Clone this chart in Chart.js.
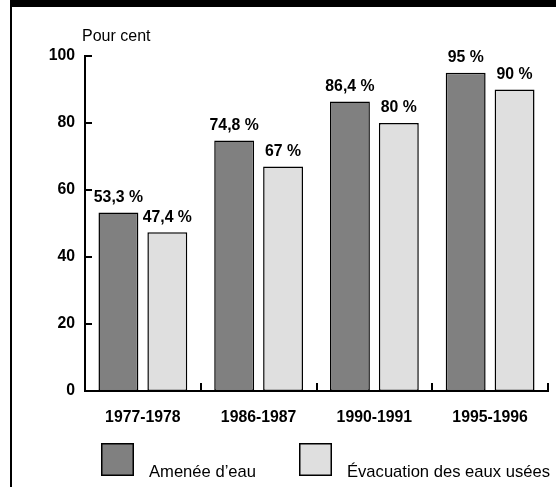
<!DOCTYPE html>
<html>
<head>
<meta charset="utf-8">
<script src="https://cdn.jsdelivr.net/npm/chart.js@4"></script>
<style>
  body { margin: 0; background: #fff; }
  #wrap { position: relative; width: 556px; height: 487px; }
  #frame {
    position: absolute; left: 10px; top: 0; width: 546px; height: 487px;
    border-left: 2px solid #000; border-top: 7px solid #000;
    box-sizing: border-box; pointer-events: none;
  }
</style>
</head>
<body>
<div id="wrap">
  <canvas id="myChart" width="556" height="487"></canvas>
  <div id="frame"></div>
</div>
<script>
let periods = ['1977-1978', '1986-1987', '1990-1991', '1995-1996'];
let water_supply = [53.3, 74.8, 86.4, 95];
let sewage = [47.4, 67, 80, 90];
let series_names = ['Amenée d’eau', 'Évacuation des eaux usées'];
let y_ticks = [0, 20, 40, 60, 80, 100];
let unit_label = 'Pour cent';

let fill_colors = ['#808080', '#dfdfdf'];
let num_family = '"Liberation Sans", Arial, sans-serif';
let num_font = { family: num_family, size: 15.8, weight: 'bold' };

function fmt(v){
    return v.toString().replace('.', ',') + ' %';
}

// labels above bars
let valueLabels = {
    id: 'valueLabels',
    afterDatasetsDraw(chart){
        let ctx = chart.ctx;
        ctx.save();
        ctx.font = 'bold 15.8px ' + num_family;
        ctx.fillStyle = '#000';
        ctx.textAlign = 'center';
        ctx.textBaseline = 'middle';
        chart.data.datasets.forEach(function(ds, i){
            let meta = chart.getDatasetMeta(i);
            meta.data.forEach(function(bar, j){
                ctx.fillText(fmt(ds.data[j]), bar.x, bar.y - 15);
            });
        });
        ctx.restore();
    }
};

// inward tick marks on both axes + unit caption
let axisTicks = {
    id: 'axisTicks',
    afterDraw(chart){
        let ctx = chart.ctx;
        let area = chart.chartArea;
        let xs = chart.scales.x, ys = chart.scales.y;
        ctx.save();
        ctx.strokeStyle = '#000';
        ctx.lineWidth = 2;
        ctx.beginPath();
        for (let i = 1; i < y_ticks.length; i++) {
            let py = Math.round(ys.getPixelForValue(y_ticks[i]));
            ctx.moveTo(area.left, py);
            ctx.lineTo(area.left + 7, py);
        }
        let half = (xs.getPixelForValue(1) - xs.getPixelForValue(0)) / 2;
        for (let i = 0; i < periods.length; i++) {
            let px = Math.round(xs.getPixelForValue(i) + half);
            ctx.moveTo(px, area.bottom);
            ctx.lineTo(px, area.bottom - 8);
        }
        ctx.stroke();

        ctx.font = '16px "Liberation Sans", sans-serif';
        ctx.fillStyle = '#000';
        ctx.textAlign = 'left';
        ctx.textBaseline = 'alphabetic';
        ctx.fillText(unit_label, area.left - 3, 41);
        ctx.restore();
    }
};

// legend under the axis, text sitting on the box bottom
let boxLegend = {
    id: 'boxLegend',
    afterDraw(chart){
        let ctx = chart.ctx;
        let spots = [101, 299];
        ctx.save();
        ctx.font = '16.6px "Liberation Sans", sans-serif';
        ctx.textBaseline = 'alphabetic';
        ctx.textAlign = 'left';
        chart.data.datasets.forEach(function(ds, i){
            ctx.fillStyle = ds.backgroundColor;
            ctx.fillRect(spots[i], 443, 33, 33);
            ctx.strokeStyle = '#000';
            ctx.lineWidth = 1.5;
            ctx.strokeRect(spots[i] + 0.75, 443.75, 31.5, 31.5);
            ctx.fillStyle = '#000';
            ctx.fillText(ds.label, spots[i] + 48, 477);
        });
        ctx.restore();
    }
};

Chart.defaults.color = '#000';

let config = {
    type: 'bar',
    data: {
        labels: periods,
        datasets: [
            {
                label: series_names[0],
                data: water_supply,
                backgroundColor: fill_colors[0],
                borderColor: '#000',
                borderWidth: 1.5,
                borderSkipped: false
            },
            {
                label: series_names[1],
                data: sewage,
                backgroundColor: fill_colors[1],
                borderColor: '#000',
                borderWidth: 1.5,
                borderSkipped: false
            }
        ]
    },
    options: {
        responsive: false,
        animation: false,
        devicePixelRatio: 1,
        categoryPercentage: 0.845,
        barPercentage: 0.816,
        layout: {
            padding: { top: 56, right: 8, left: 0, bottom: 0 }
        },
        plugins: {
            legend: { display: false },
            tooltip: { enabled: false }
        },
        scales: {
            x: {
                grid: { display: false, drawTicks: false },
                border: { display: true, color: '#000', width: 2 },
                ticks: {
                    padding: 17,
                    font: num_font
                },
                afterFit(scale){ scale.height = 96; }
            },
            y: {
                min: 0,
                max: 100,
                grid: { display: false, drawTicks: false },
                border: { display: true, color: '#000', width: 2 },
                afterBuildTicks(scale){
                    scale.ticks = y_ticks.map(v => ({ value: v }));
                },
                ticks: {
                    padding: 10,
                    font: num_font
                },
                afterFit(scale){ scale.width = 85; }
            }
        }
    },
    plugins: [valueLabels, axisTicks, boxLegend]
};

window.chart = new Chart(document.getElementById('myChart'), config);
</script>
</body>
</html>
